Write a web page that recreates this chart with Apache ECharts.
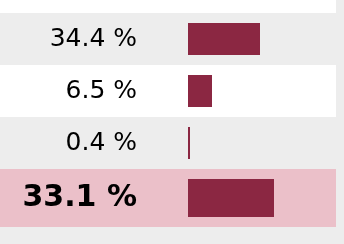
<!DOCTYPE html>
<html><head><meta charset="utf-8">
<script src="https://cdn.jsdelivr.net/npm/echarts@6/dist/echarts.min.js"></script>
<style>html,body{margin:0;padding:0;background:#ededed;}#c{width:344px;height:244px;}</style>
</head><body><div id="c"></div>
<script>
// Row labels (shown values) and bar lengths
const rowLabels = ['34.4 %', '6.5 %', '0.4 %'];
const barLengths = [36, 12, 1];
const totalLabel = ['33.1 %'];
const totalBar = [43];
const topRow = [''];

const chart = echarts.init(document.getElementById('c'), null, {renderer: 'canvas'});
const barColor = '#8b2742';
function yAx(gridIndex, data, colors, bold) {
  return {
    type: 'category', gridIndex, data, inverse: true, position: 'left', offset: -138,
    axisLine: {show: false}, axisTick: {show: false}, splitLine: {show: false},
    splitArea: {show: true, areaStyle: {color: colors}},
    axisLabel: {margin: 1, color: '#000', fontFamily: 'DejaVu Sans',
      fontSize: bold ? 30 : 25, fontWeight: bold ? 'bold' : 'normal', padding: [2, 0, 0, 0]}
  };
}
chart.setOption({
  animation: false,
  backgroundColor: '#ededed',
  grid: [
    {left: 0, width: 336, top: 13, height: 156},
    {left: 0, width: 336, top: 169, height: 58},
    {left: 0, width: 336, top: 0, height: 13}
  ],
  xAxis: [
    {type: 'value', gridIndex: 0, min: -94, max: 74, show: false},
    {type: 'value', gridIndex: 1, min: -94, max: 74, show: false},
    {type: 'value', gridIndex: 2, min: -94, max: 74, show: false}
  ],
  yAxis: [
    yAx(0, rowLabels, ['#ededed', '#ffffff'], false),
    yAx(1, totalLabel, ['#ebc0c9'], true),
    yAx(2, topRow, ['#ffffff'], false)
  ],
  series: [
    {type: 'bar', xAxisIndex: 0, yAxisIndex: 0, data: barLengths, barWidth: 32, itemStyle: {color: barColor}},
    {type: 'bar', xAxisIndex: 1, yAxisIndex: 1, data: totalBar, barWidth: 38, itemStyle: {color: barColor}}
  ]
});
</script></body></html>
